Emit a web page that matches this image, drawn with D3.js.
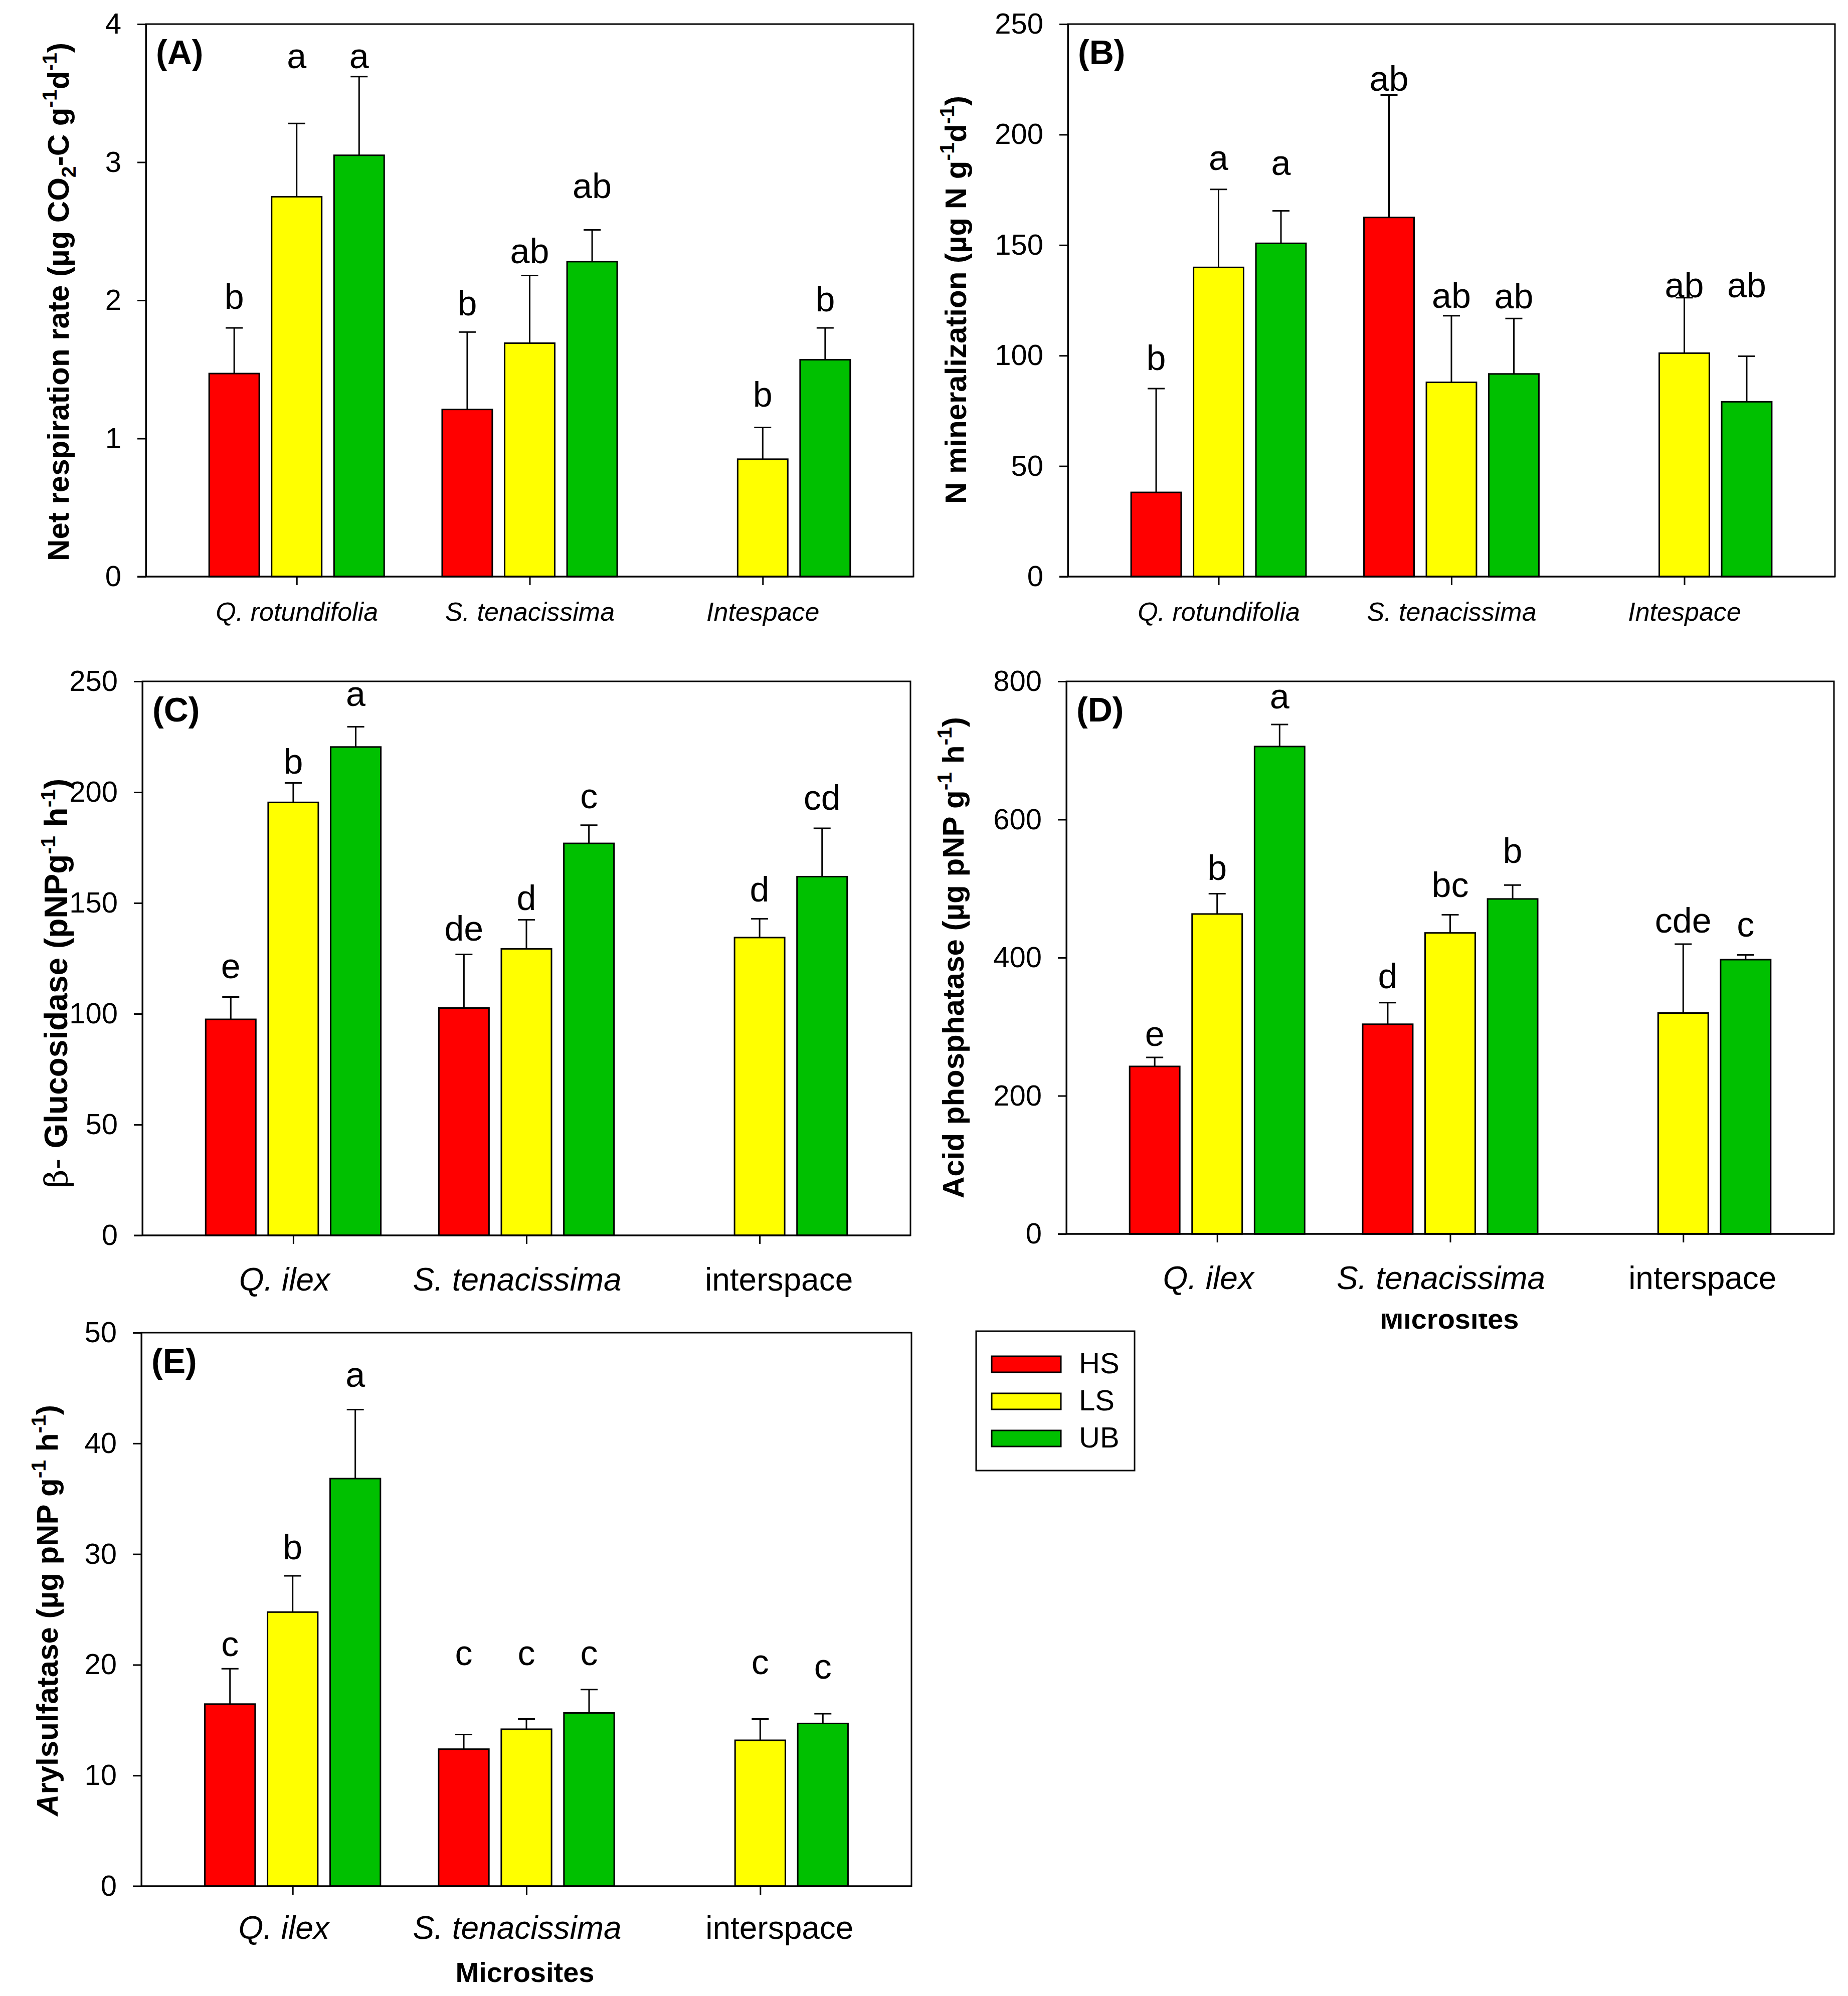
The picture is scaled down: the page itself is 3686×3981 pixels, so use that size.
<!DOCTYPE html>
<html>
<head>
<meta charset="utf-8">
<script src="https://cdn.jsdelivr.net/npm/d3@7"></script>
<style>
  body { margin: 0; background: #fff; }
  text { font-family: "Liberation Sans", Arial, sans-serif; fill: #000; }
</style>
</head>
<body>
<script>
// treatments and categories
var treatments = ["HS", "LS", "UB"];
var sitesAB = ["Q. rotundifolia", "S. tenacissima", "Intespace"];
var sitesCDE = ["Q. ilex", "S. tenacissima", "interspace"];

// (A) net respiration
var respMean = [[1.47, 1.21, null], [2.75, 1.69, 0.85], [3.05, 2.28, 1.57]];
var respErr = [[0.33, 0.56, null], [0.53, 0.49, 0.23], [0.57, 0.23, 0.23]];
var respLetters = [["b", "b", null], ["a", "ab", "b"], ["a", "ab", "b"]];
var respLetterY = [[1.94, 1.89, null], [3.68, 2.27, 1.23], [3.68, 2.74, 1.92]];
var respTicks = [0, 1, 2, 3, 4];

// (B) N mineralization
var nminMean = [[38.1, 162.5, null], [139.9, 87.9, 101.1], [150.8, 91.7, 79.1]];
var nminErr = [[47.0, 55.4, null], [35.3, 30.1, 25.1], [14.7, 25.1, 20.6]];
var nminLetters = [["b", "ab", null], ["a", "ab", "ab"], ["a", "ab", "ab"]];
var nminLetterY = [[93.5, 219.8, null], [184, 121.7, 126.4], [181.8, 121.3, 126.4]];
var nminTicks = [0, 50, 100, 150, 200, 250];

// (C) beta-glucosidase
var glucMean = [[97.5, 102.6, null], [195.4, 129.3, 134.4], [220.4, 176.9, 161.9]];
var glucErr = [[10.1, 24.2, null], [8.8, 13.1, 8.5], [9.1, 8.2, 21.8]];
var glucLetters = [["e", "de", null], ["b", "d", "d"], ["a", "c", "cd"]];
var glucLetterY = [[116.0, 133.0, null], [208.3, 146.8, 150.7], [238.9, 192.7, 192.1]];
var glucTicks = [0, 50, 100, 150, 200, 250];

// (D) acid phosphatase
var phosMean = [[242.5, 303.6, null], [463.2, 435.8, 319.8], [705.7, 485.0, 397.1]];
var phosErr = [[13.1, 31.2, null], [29.3, 26.2, 99.8], [31.8, 20.0, 6.9]];
var phosLetters = [["e", "d", null], ["b", "bc", "cde"], ["a", "b", "c"]];
var phosLetterY = [[272.4, 355.4, null], [512.5, 488.2, 436.4], [760.6, 537.4, 430.2]];
var phosTicks = [0, 200, 400, 600, 800];

// (E) arylsulfatase
var arylMean = [[16.45, 12.38, null], [24.76, 14.18, 13.18], [36.82, 15.65, 14.70]];
var arylErr = [[3.20, 1.32, null], [3.28, 0.92, 1.92], [6.23, 2.12, 0.88]];
var arylLetters = [["c", "c", null], ["b", "c", "c"], ["a", "c", "c"]];
var arylLetterY = [[20.77, 19.97, null], [29.55, 19.97, 19.17], [45.13, 19.97, 18.77]];
var arylTicks = [0, 10, 20, 30, 40, 50];

var fills = ["#ff0000", "#ffff00", "#00c000"];

var svg = d3.select("body").append("svg")
    .attr("width", 3686)
    .attr("height", 3981);

// title pieces: [text, mode] mode: 0 normal, 1 sup, -1 sub
var panels = [
  { tag: "(A)", box: [291, 48, 1822, 1150], mean: respMean, err: respErr, letters: respLetters, letterY: respLetterY,
    ticks: respTicks, sites: sitesAB, catSize: 52, catDy: 88, catDx: [0, 0, 0], catItalic: [true, true, true],
    titleX: 137, titleY: 602, titleSize: 60,
    title: [["Net respiration rate (µg CO", 0], ["2", -1], ["-C g", 0], ["-1", 1], ["d", 0], ["-1", 1], [")", 0]] },
  { tag: "(B)", box: [2130, 48, 3660, 1150], mean: nminMean, err: nminErr, letters: nminLetters, letterY: nminLetterY,
    ticks: nminTicks, sites: sitesAB, catSize: 52, catDy: 88, catDx: [0, 0, 0], catItalic: [true, true, true],
    titleX: 1927, titleY: 598, titleSize: 60,
    title: [["N mineralization (µg N g", 0], ["-1", 1], ["d", 0], ["-1", 1], [")", 0]] },
  { tag: "(C)", box: [284, 1359, 1816, 2464], mean: glucMean, err: glucErr, letters: glucLetters, letterY: glucLetterY,
    ticks: glucTicks, sites: sitesCDE, catSize: 64, catDy: 110, catDx: [-18, -19, 38], catItalic: [true, true, false],
    titleX: 134, titleY: 1961, titleSize: 64, beta: true,
    title: [["Glucosidase (pNPg", 0], ["-1", 1], [" h", 0], ["-1", 1], [")", 0]] },
  { tag: "(D)", box: [2127, 1359, 3658, 2461], mean: phosMean, err: phosErr, letters: phosLetters, letterY: phosLetterY,
    ticks: phosTicks, sites: sitesCDE, catSize: 64, catDy: 110, catDx: [-18, -19, 38], catItalic: [true, true, false],
    titleX: 1922, titleY: 1910, titleSize: 60,
    title: [["Acid phosphatase (µg pNP g", 0], ["-1", 1], [" h", 0], ["-1", 1], [")", 0]] },
  { tag: "(E)", box: [282, 2658, 1818, 3762], mean: arylMean, err: arylErr, letters: arylLetters, letterY: arylLetterY,
    ticks: arylTicks, sites: sitesCDE, catSize: 64, catDy: 105, catDx: [-18, -19, 38], catItalic: [true, true, false],
    titleX: 115, titleY: 3212, titleSize: 60, italicA: true,
    title: [["rylsulfatase (µg pNP g", 0], ["-1", 1], [" h", 0], ["-1", 1], [")", 0]] }
];

panels.forEach(function (p) {
  var x0 = p.box[0], y0 = p.box[1], x1 = p.box[2], y1 = p.box[3];
  var g = svg.append("g");

  var x = d3.scaleLinear().domain([-0.647, 2.647]).range([x0, x1]);
  var y = d3.scaleLinear().domain([0, d3.max(p.ticks)]).range([y1, y0]);
  var off = 0.268, bw = x(0.215) - x(0);

  // bars
  treatments.forEach(function (t, ti) {
    p.mean[ti].forEach(function (v, si) {
      if (v === null) return;
      var cx = x(si + (ti - 1) * off);
      var top = y(v + p.err[ti][si]);
      g.append("line").attr("x1", cx).attr("x2", cx).attr("y1", y(v)).attr("y2", top)
        .attr("stroke", "#000").attr("stroke-width", 3);
      g.append("line").attr("x1", cx - 17).attr("x2", cx + 17).attr("y1", top).attr("y2", top)
        .attr("stroke", "#000").attr("stroke-width", 3);
      g.append("rect")
        .attr("x", cx - bw / 2).attr("y", y(v))
        .attr("width", bw).attr("height", y(0) - y(v))
        .attr("fill", fills[ti]).attr("stroke", "#000").attr("stroke-width", 3);
      g.append("text")
        .attr("x", cx).attr("y", y(p.letterY[ti][si]))
        .attr("text-anchor", "middle")
        .style("font-size", "70px")
        .text(p.letters[ti][si]);
    });
  });

  // frame
  g.append("rect").attr("x", x0).attr("y", y0).attr("width", x1 - x0).attr("height", y1 - y0)
    .attr("fill", "none").attr("stroke", "#000").attr("stroke-width", 3);

  // y axis
  var ya = g.append("g").attr("transform", "translate(" + x0 + ",0)")
    .call(d3.axisLeft(y).tickValues(p.ticks).tickSize(17).tickSizeOuter(0).tickPadding(32)
      .tickFormat(d3.format("d")));
  ya.select(".domain").attr("stroke-width", 3);
  ya.selectAll(".tick line").attr("stroke-width", 3);
  ya.selectAll(".tick text").style("font-size", "58px").style("font-family", "Liberation Sans, Arial, sans-serif");

  // x axis
  var xa = g.append("g").attr("transform", "translate(0," + y1 + ")")
    .call(d3.axisBottom(x).tickValues([0, 1, 2]).tickSize(17).tickSizeOuter(0)
      .tickFormat(function (d) { return p.sites[d]; }));
  xa.select(".domain").attr("d", "M" + (x0 - 17) + ",0H" + x1).attr("stroke-width", 3);
  xa.selectAll(".tick line").attr("stroke-width", 3);
  xa.selectAll(".tick text")
    .attr("y", p.catDy).attr("dy", null)
    .attr("x", function (d) { return p.catDx[d]; })
    .style("font-size", p.catSize + "px")
    .style("font-family", "Liberation Sans, Arial, sans-serif")
    .style("font-style", function (d) { return p.catItalic[d] ? "italic" : "normal"; });

  // panel tag
  g.append("text").attr("x", x0 + 20).attr("y", y0 + 80)
    .style("font-size", "68px").style("font-weight", "bold").text(p.tag);

  // y title
  var tt = g.append("text")
    .attr("transform", "translate(" + p.titleX + "," + p.titleY + ") rotate(-90)")
    .attr("text-anchor", "middle")
    .style("font-size", p.titleSize + "px").style("font-weight", "bold");
  if (p.beta) {
    tt.append("tspan").style("font-weight", "normal").style("font-family", "DejaVu Serif, serif")
      .style("font-size", "64px").text("β-  ");
  }
  if (p.italicA) {
    tt.append("tspan").style("font-style", "italic").text("A");
  }
  var shift = 0;
  p.title.forEach(function (s) {
    var target = s[1] === 1 ? -24 : (s[1] === -1 ? 14 : 0);
    var ts = tt.append("tspan").attr("dy", target - shift).text(s[0]);
    if (s[1] !== 0) ts.style("font-size", "41px");
    shift = target;
  });
});

// x titles
svg.append("text").attr("x", 1047).attr("y", 3953).attr("text-anchor", "middle")
  .style("font-size", "56px").style("font-weight", "bold").text("Microsites");

var clip = svg.append("clipPath").attr("id", "cutD");
clip.append("rect").attr("x", 2600).attr("y", 2620).attr("width", 600).attr("height", 60);
svg.append("text").attr("x", 2891).attr("y", 2650).attr("text-anchor", "middle")
  .attr("clip-path", "url(#cutD)")
  .style("font-size", "56px").style("font-weight", "bold").text("Microsites");

// legend
var lg = svg.append("g");
lg.append("rect").attr("x", 1947).attr("y", 2655).attr("width", 316).attr("height", 278)
  .attr("fill", "#fff").attr("stroke", "#000").attr("stroke-width", 3);
treatments.forEach(function (t, i) {
  lg.append("rect").attr("x", 1978).attr("y", 2705 + i * 74).attr("width", 138).attr("height", 32)
    .attr("fill", fills[i]).attr("stroke", "#000").attr("stroke-width", 3);
  lg.append("text").attr("x", 2152).attr("y", 2739 + i * 74)
    .style("font-size", "58px").text(t);
});
</script>
</body>
</html>
